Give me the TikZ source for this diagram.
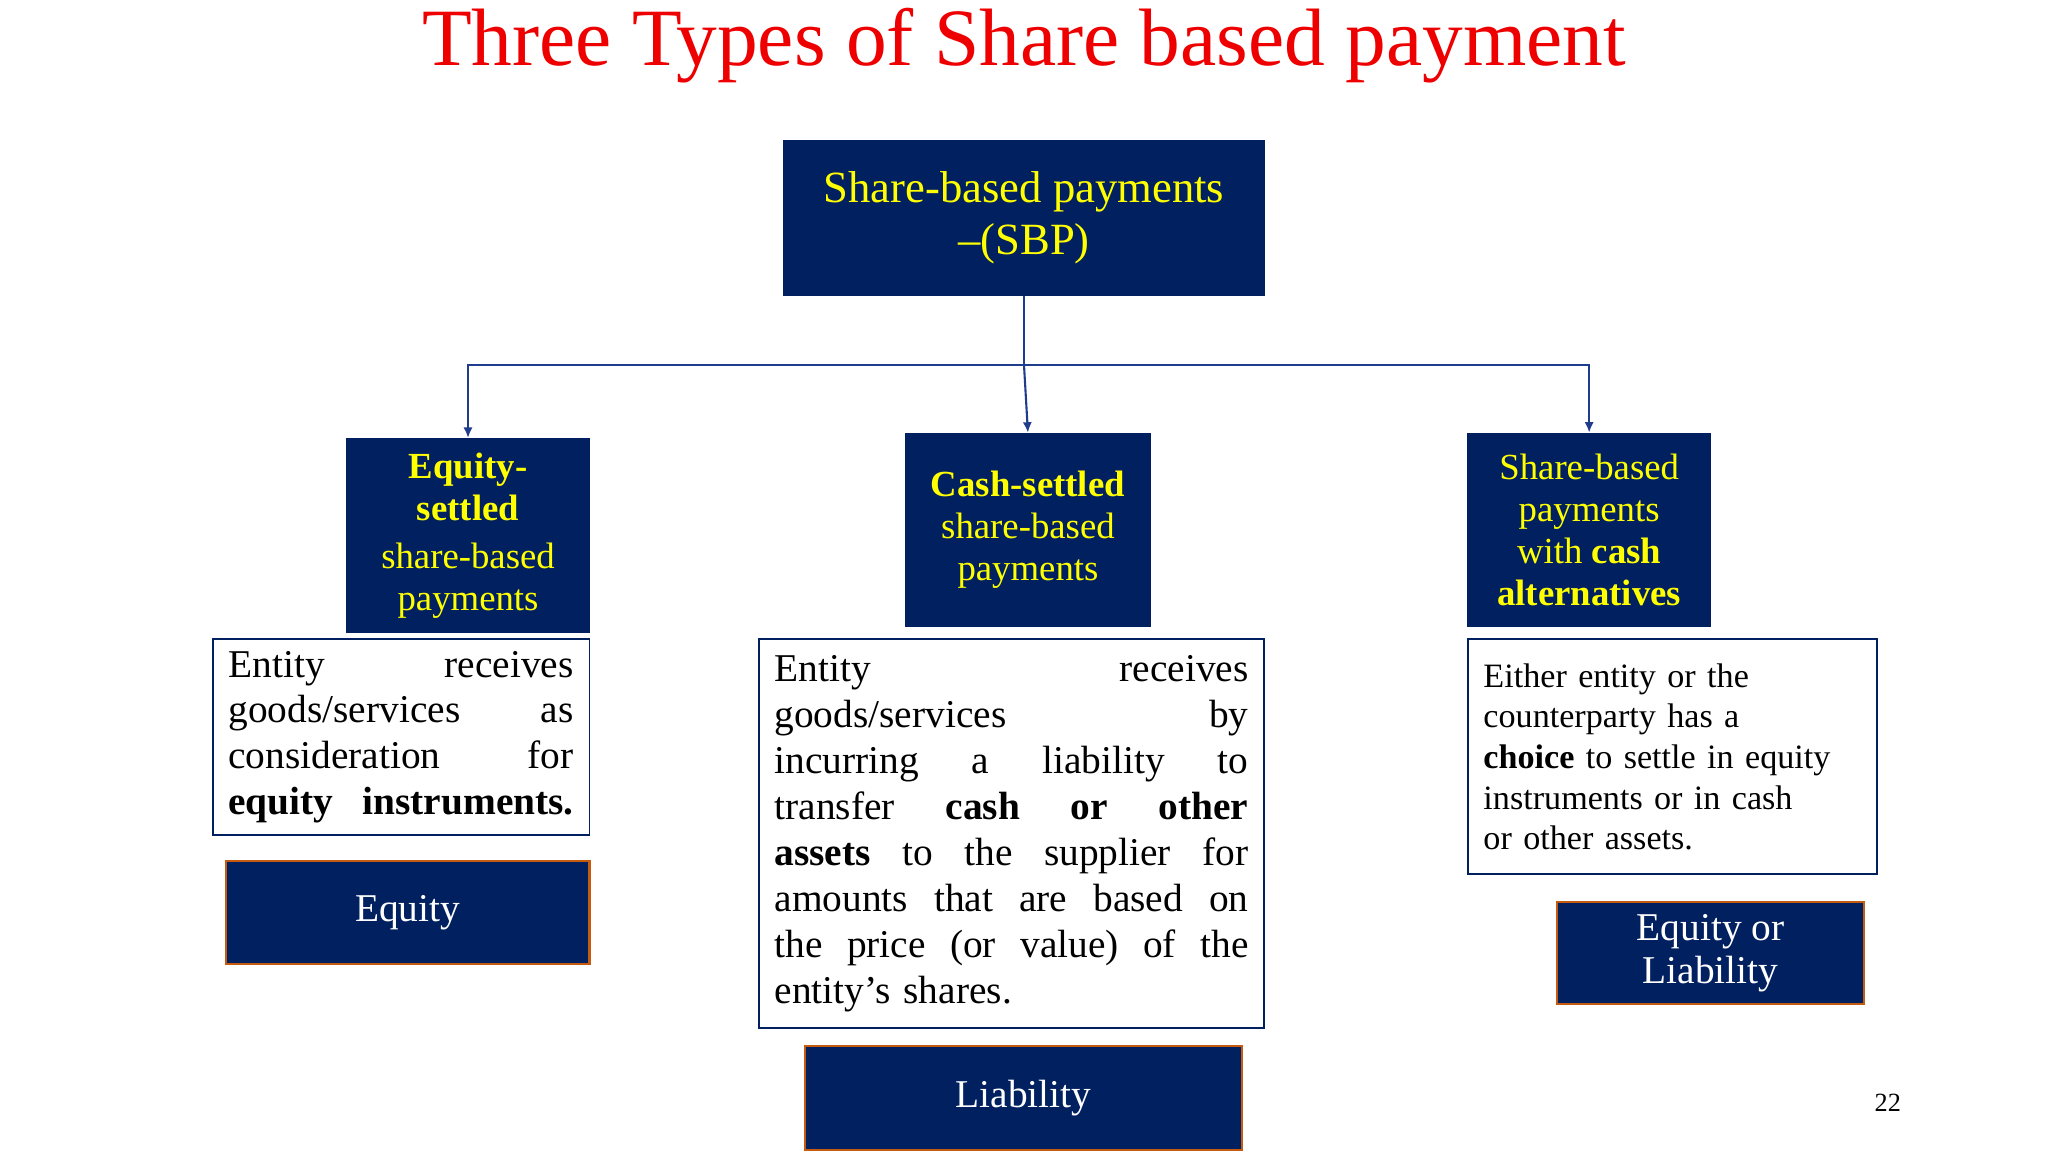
\documentclass[tikz,border=0pt]{standalone}
\usepackage{fontspec}
\setmainfont{Liberation Serif}
\usetikzlibrary{arrows.meta}
\definecolor{navy}{HTML}{002060}
\definecolor{ylw}{HTML}{FFFF00}
\definecolor{lnk}{HTML}{203C8C}
\definecolor{brd}{HTML}{C55A11}
\definecolor{ttl}{HTML}{EE0000}
\tikzset{
  navybox/.style={draw=navy,fill=navy,text=ylw,align=center,inner sep=2pt,font=\fontsize{14}{16}\selectfont},
  wbox/.style={draw=navy,line width=0.7pt,fill=white,inner xsep=6pt,inner ysep=3pt},
  resbox/.style={draw=brd,line width=0.8pt,fill=navy,text=white,align=center,font=\fontsize{15}{17.5}\selectfont},
  conn/.style={draw=lnk,line width=0.8pt},
  arr/.style={conn,-{Latex[length=4pt,width=3.5pt]}}
}
\begin{document}
\begin{tikzpicture}[x=0.5pt,y=-0.5pt]
\useasboundingbox (0,0) rectangle (1560,877.5);
\node (title) at (780,35) {\fontsize{31}{36}\selectfont\color{ttl}Three Types of Share based payment};
\node[navybox,minimum width=183pt,minimum height=59pt,font=\fontsize{17}{20}\selectfont] (top) at (780,166) {Share-based payments\\–(SBP)};
\node[navybox,minimum width=92.5pt,minimum height=74pt] (eq) at (356.5,408) {\textbf{Equity-}\\\textbf{settled}\\[2pt]share-based\\payments};
\node[navybox,minimum width=93pt,minimum height=73.5pt] (cs) at (783,403.5) {\textbf{Cash-settled}\\share-based\\payments};
\node[navybox,minimum width=92.5pt,minimum height=73.5pt] (ca) at (1210.5,403.5) {Share-based\\payments\\with \textbf{cash}\\\textbf{alternatives}};
\coordinate (j) at (780,278);
\draw[conn] (top.south) -- (j);
\draw[arr] (j) -| (eq.north);
\draw[arr] (j) -- (cs.north);
\draw[arr] (j) -| (ca.north);
\node[wbox,minimum width=143.5pt,minimum height=74.5pt,text width=131.5pt,align=left,font=\fontsize{15}{17.5}\selectfont] (t1) at (305.5,561.5)
 {Entity\hfill receives\\goods/services\hfill as\\consideration\hfill for\\\textbf{equity\hfill instruments.}};
\node[wbox,minimum width=192.5pt,minimum height=148pt,text width=180.5pt,align=left,font=\fontsize{15}{17.5}\selectfont] (t2) at (770.5,635)
 {Entity\hfill receives\\goods/services\hfill by\\incurring\hfill a\hfill liability\hfill to\\transfer\hfill \textbf{cash}\hfill \textbf{or}\hfill \textbf{other}\\\textbf{assets}\hfill to\hfill the\hfill supplier\hfill for\\amounts\hfill that\hfill are\hfill based\hfill on\\the\hfill price\hfill (or\hfill value)\hfill of\hfill the\\entity’s shares.};
\node[wbox,minimum width=156pt,minimum height=89.5pt,text width=144pt,align=left,font=\fontsize{13}{15.5}\selectfont] (t3) at (1274,576.5)
 {Either entity or the\\counterparty has a\\\textbf{choice} to settle in equity\\instruments or in cash\\or other assets.};
\node[resbox,minimum width=138.5pt,minimum height=39pt] (r1) at (310.5,695) {Equity};
\node[resbox,minimum width=166.5pt,minimum height=39.5pt] (r2) at (779.5,836.5) {Liability};
\node[resbox,minimum width=117pt,minimum height=39pt,font=\fontsize{15}{16.5}\selectfont] (r3) at (1303,726) {Equity or\\Liability};
\node[font=\fontsize{10}{12}\selectfont] (pg) at (1438,840) {22};
\end{tikzpicture}
\end{document}
